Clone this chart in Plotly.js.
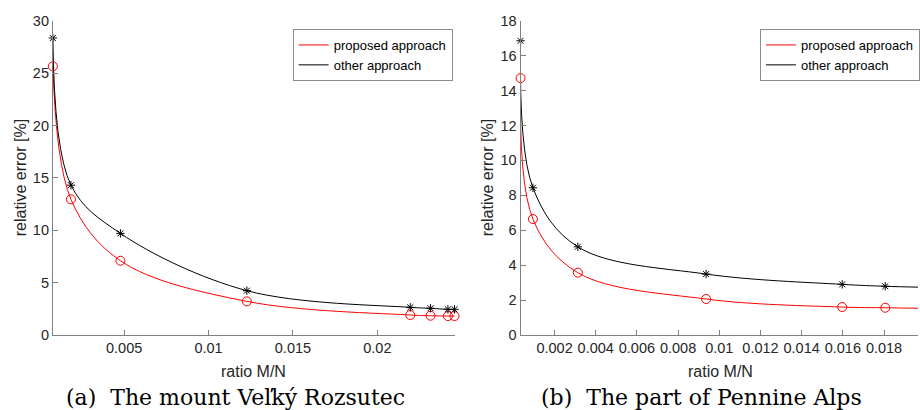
<!DOCTYPE html>
<html>
<head>
<meta charset="utf-8">
<script src="https://cdn.plot.ly/plotly-3.0.1.min.js"></script>
<style>html,body{margin:0;padding:0;background:#fff;}#chart{width:920px;height:410px;}</style>
</head>
<body>
<div id="chart"></div>
<script>
// ---- data ----
// (a) The mount Veľký Rozsutec
const ratioA = [0.00078, 0.00185, 0.00478, 0.01227, 0.02195, 0.02315, 0.02418, 0.02457];
const proposedA = [25.65, 12.95, 7.09, 3.21, 1.91, 1.84, 1.81, 1.81];
const otherA = [28.35, 14.3, 9.7, 4.23, 2.64, 2.55, 2.45, 2.45];
// (b) The part of Pennine Alps
const ratioB = [0.00035, 0.00095, 0.00313, 0.00936, 0.01597, 0.01806];
const proposedB = [14.71, 6.64, 3.57, 2.06, 1.60, 1.56];
const otherB = [16.85, 8.43, 5.05, 3.49, 2.90, 2.79];
// curve continues past the last marker to the right edge of panel (b)
const curveEndB = 0.01965;
const proposedEndB = 1.53;
const otherEndB = 2.74;

const tickValsA = [0.005, 0.01, 0.015, 0.02];
const tickTextA = ["0.005", "0.01", "0.015", "0.02"];
const tickValsB = [0.002, 0.004, 0.006, 0.008, 0.01, 0.012, 0.014, 0.016, 0.018];
const tickTextB = ["0.002", "0.004", "0.006", "0.008", "0.01", "0.012", "0.014", "0.016", "0.018"];
const yTicksA = [0, 5, 10, 15, 20, 25, 30];
const yTicksB = [0, 2, 4, 6, 8, 10, 12, 14, 16, 18];

const seriesNames = ["proposed approach", "other approach"];
const captions = ["(a)  The mount Veľký Rozsutec", "(b)  The part of Pennine Alps"];
const xTitle = "ratio M/N";
const yTitle = "relative error [%]";

// ---- styling ----
const RED = "#ff0000", BLACK = "#000000";
const AX = "#808080", TXT = "#262626";
const SANS = "Liberation Sans, Arial, sans-serif";
const SERIF = "DejaVu Serif, Liberation Serif, serif";

function lineTrace(x, y, name, color, xa, ya, lg) {
  return {x: x, y: y, name: name, type: "scatter", mode: "lines",
    line: {color: color, width: 1, shape: "spline", smoothing: 1},
    xaxis: xa, yaxis: ya, legend: lg, hoverinfo: "skip"};
}
function markTrace(x, y, color, sym, size, xa, ya) {
  return {x: x, y: y, type: "scatter", mode: "markers", showlegend: false, cliponaxis: false,
    marker: {symbol: sym, size: size, color: color, line: {color: color, width: 1}},
    xaxis: xa, yaxis: ya};
}

const data = [
  lineTrace(ratioA, proposedA, seriesNames[0], RED, "x", "y", "legend"),
  lineTrace(ratioA, otherA, seriesNames[1], BLACK, "x", "y", "legend"),
  markTrace(ratioA, proposedA, RED, "circle-open", 9, "x", "y"),
  markTrace(ratioA, otherA, BLACK, "asterisk-open", 7, "x", "y"),
  lineTrace(ratioB.concat([curveEndB]), proposedB.concat([proposedEndB]), seriesNames[0], RED, "x2", "y2", "legend2"),
  lineTrace(ratioB.concat([curveEndB]), otherB.concat([otherEndB]), seriesNames[1], BLACK, "x2", "y2", "legend2"),
  markTrace(ratioB, proposedB, RED, "circle-open", 9, "x2", "y2"),
  markTrace(ratioB, otherB, BLACK, "asterisk-open", 7, "x2", "y2")
];

function xAxis(domain, range, tv, tt, anchor) {
  return {domain: domain, range: range, anchor: anchor, tickmode: "array", tickvals: tv, ticktext: tt,
    showline: true, linecolor: AX, linewidth: 1, ticks: "inside", ticklen: 5, tickcolor: AX,
    showgrid: false, zeroline: false, tickfont: {family: SANS, size: 14.5, color: TXT}};
}
function yAxis(domain, range, tv, anchor) {
  return {domain: domain, range: range, anchor: anchor, tickmode: "array", tickvals: tv,
    showline: true, linecolor: AX, linewidth: 1, ticks: "inside", ticklen: 5, tickcolor: AX,
    showgrid: false, zeroline: false, tickfont: {family: SANS, size: 14.5, color: TXT}};
}
const W = 920, H = 410;
const yDom = [(H - 335) / H, (H - 20.7) / H];
function legendAt(xpx, ypx) {
  return {x: xpx / W, y: (H - ypx) / H, xanchor: "left", yanchor: "top",
    bgcolor: "#ffffff", bordercolor: "#8c8c8c", borderwidth: 1,
    font: {family: SANS, size: 13, color: "#000"}, tracegroupgap: 0, itemwidth: 30};
}
function label(text, xpx, ypx, angle, font) {
  return {text: text, x: xpx / W, y: (H - ypx) / H, xref: "paper", yref: "paper",
    xanchor: "center", yanchor: "middle", showarrow: false, textangle: angle, font: font};
}
const titleFont = {family: SANS, size: 16, color: TXT};
const capFont = {family: SERIF, size: 22, color: "#000"};

const layout = {
  width: W, height: H, margin: {l: 0, r: 0, t: 0, b: 0},
  paper_bgcolor: "#ffffff", plot_bgcolor: "#ffffff",
  showlegend: true,
  xaxis: xAxis([53 / W, 456 / W], [0.00078, 0.0246], tickValsA, tickTextA, "y"),
  yaxis: yAxis(yDom, [0, 30], yTicksA, "x"),
  xaxis2: xAxis([521.7 / W, 1], [0.00035, 0.01965], tickValsB, tickTextB, "y2"),
  yaxis2: yAxis(yDom, [0, 18], yTicksB, "x2"),
  legend: legendAt(293.3, 29),
  legend2: legendAt(761.7, 29),
  annotations: [
    label(xTitle, 254.5, 371, 0, titleFont),
    label(xTitle, 722, 371, 0, titleFont),
    label(yTitle, 20.5, 177.8, -90, titleFont),
    label(yTitle, 488.5, 177.8, -90, titleFont),
    label(captions[0], 236, 397, 0, capFont),
    label(captions[1], 703.3, 397, 0, capFont)
  ]
};

Plotly.newPlot("chart", data, layout, {staticPlot: true, displayModeBar: false});
</script>
</body>
</html>
